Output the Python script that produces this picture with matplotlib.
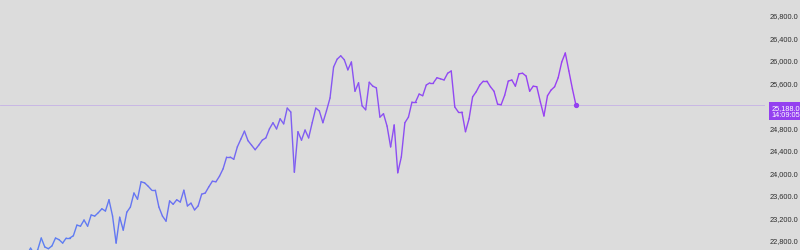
import numpy as np
import matplotlib.pyplot as plt
from matplotlib.collections import LineCollection
from matplotlib.colors import LinearSegmentedColormap
import matplotlib.transforms as mtransforms

# --- DATOS ---
precios = [
    22530, 22650, 22550, 22620, 22830, 22670, 22640, 22690, 22830, 22800,
    22740, 22830, 22830, 22870, 23060, 23040, 23150, 23040, 23240, 23220,
    23280, 23350, 23310, 23510, 23220, 22740, 23200, 22970, 23290, 23380,
    23630, 23520, 23830, 23810, 23750, 23680, 23680, 23380, 23220, 23130,
    23490, 23430, 23510, 23470, 23680, 23400, 23450, 23330, 23400, 23610,
    23630, 23740, 23840, 23830, 23930, 24060, 24270, 24270, 24230, 24450,
    24590, 24730, 24560, 24480, 24400, 24480, 24570, 24610, 24770, 24880,
    24770, 24950, 24860, 25140, 25070, 24000, 24720, 24570, 24750, 24610,
    24880, 25140, 25090, 24880, 25090, 25320, 25870, 26010, 26070, 26000,
    25820, 25960, 25440, 25590, 25180, 25110, 25600, 25530, 25500, 24980,
    25040, 24820, 24450, 24840, 23990, 24270, 24880, 24980, 25250, 25250,
    25390, 25360, 25550, 25590, 25590, 25680, 25660, 25640, 25760, 25800,
    25160, 25070, 25070, 24720, 24950, 25340, 25430, 25550, 25620, 25620,
    25520, 25440, 25210, 25200, 25370, 25620, 25640, 25530, 25750, 25760,
    25710, 25440, 25530, 25520, 25250, 25000, 25360, 25460, 25520, 25680,
    25960, 26120, 25800, 25480, 25188,
]
ticks_y = [22800, 23200, 23600, 24000, 24400, 24800, 25600, 26000, 26400, 26800]
precio_actual = 25188.0
hora_actual = "14:09:05"

FONDO = "#dcdcdc"
MORADO = "#9440f0"

n = len(precios)
x = np.arange(n)
y = np.array(precios, dtype=float)

fig = plt.figure(figsize=(8, 2.51), dpi=100, facecolor=FONDO)
ax = fig.add_axes([0, 0, 765 / 800, 1], facecolor=FONDO)

# linea con degradado azul -> morado
puntos = np.column_stack([x, y]).reshape(-1, 1, 2)
segmentos = np.concatenate([puntos[:-1], puntos[1:]], axis=1)
cmap = LinearSegmentedColormap.from_list(
    "deg", [(0.0, "#5a80f2"), (0.3, "#6c70f2"), (0.6, "#8a52f2"), (1.0, "#9a3ff2")])
lc = LineCollection(segmentos, cmap=cmap, linewidth=1.0, capstyle="round", joinstyle="round")
lc.set_array(x[:-1])
ax.add_collection(lc)

ax.axhline(precio_actual, color="#c6b2e6", linewidth=0.6, zorder=0)
ax.plot(x[-1], y[-1], "o", color=MORADO, markersize=2.8)

paso = 549 / (n - 1)
ax.set_xlim(-27 / paso, (765 - 27) / paso)
ax.set_ylim(22617, 27080)

ax.yaxis.tick_right()
ax.set_yticks(ticks_y)
ax.set_yticklabels([f"{t:,.1f}" for t in ticks_y], fontsize=5.3, family="Liberation Sans", color="#2e2e2e")
ax.tick_params(axis="y", length=0, pad=3.6)
ax.set_xticks([])
for s in ax.spines.values():
    s.set_visible(False)

trans = mtransforms.blended_transform_factory(ax.transAxes, ax.transData)
ax.text(1.0085, precio_actual + 25, f"{precio_actual:,.1f}\n{hora_actual}", transform=trans,
        ha="left", va="top", fontsize=5.3, family="Liberation Sans", color="white",
        linespacing=1.0, clip_on=False,
        bbox=dict(boxstyle="square,pad=0.3", fc=MORADO, ec="none"))

fig.savefig("out.png", dpi=100, facecolor=FONDO)
